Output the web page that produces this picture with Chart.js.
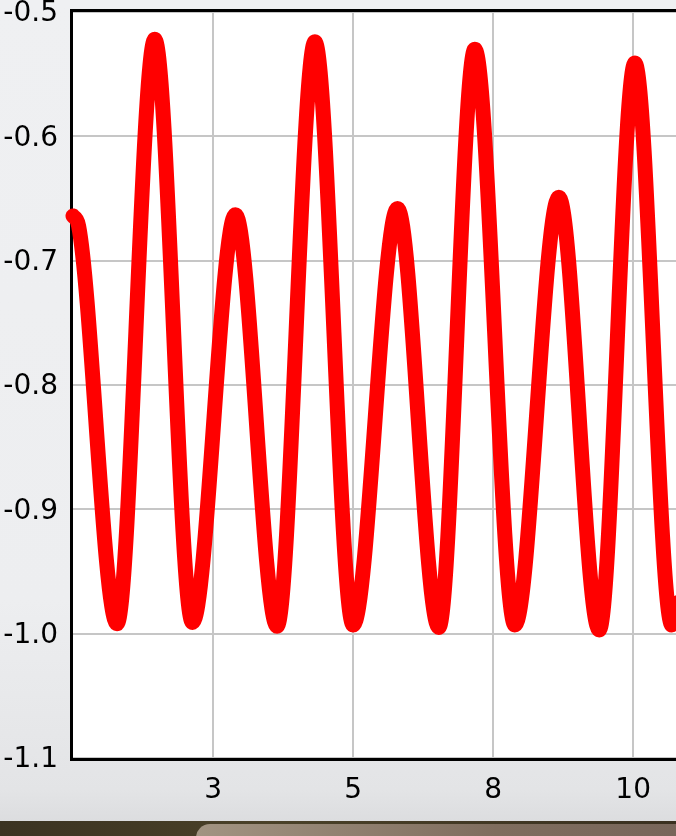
<!DOCTYPE html>
<html>
<head>
<meta charset="utf-8">
<script src="https://cdn.jsdelivr.net/npm/chart.js@4.4.1/dist/chart.umd.min.js"></script>
<style>
  html, body { margin: 0; padding: 0; width: 676px; height: 836px; overflow: hidden; }
  body { background: linear-gradient(to bottom, #eff0f2 0px, #edeef0 600px, #e3e4e6 790px, #dcdddf 821px, #3a3122 821px, #3a3122 836px); position: relative; }
  #wrap { position: absolute; left: 0; top: 0; width: 720px; height: 821px; }
  #desk { position: absolute; left: 0; top: 821px; width: 676px; height: 15px; background: linear-gradient(to right, #3b3322, #4a4128 40%, #3a3020); }
  #desk2 { position: absolute; left: 196px; top: 824px; width: 500px; height: 20px; border-top-left-radius: 14px; background: linear-gradient(to right, #a29482, #7f6d5e 60%, #77655a); }
</style>
</head>
<body>
<div id="desk"></div>
<div id="desk2"></div>
<div id="wrap"><canvas id="c" width="720" height="821"></canvas></div>
<script>
// Data (extrema of the curve)
const xValues = [0, 0.1, 0.786, 1.459, 2.132, 2.90, 3.643, 4.318, 5.0, 5.793, 6.53, 7.173, 7.888, 8.673, 9.393, 10.03, 10.69, 10.8];
const yValues = [-0.664, -0.672, -0.992, -0.522, -0.991, -0.663, -0.994, -0.524, -0.993, -0.658, -0.995, -0.530, -0.993, -0.649, -0.997, -0.541, -0.993, -0.975];
const xTicks = [2.5, 5, 7.5, 10];
const yTicks = [-1.1, -1.0, -0.9, -0.8, -0.7, -0.6, -0.5];
const xMin = 0, xMax = 10.8;
const yMin = -1.1, yMax = -0.5;

const points = xValues.map((x, i) => ({ x: x, y: yValues[i] }));

const frame = {
  id: 'frame',
  beforeDraw(chart) {
    const a = chart.chartArea, ctx = chart.ctx;
    ctx.save();
    ctx.fillStyle = '#ffffff';
    ctx.fillRect(a.left, a.top, a.right - a.left, a.bottom - a.top);
    ctx.restore();
  },
  beforeDatasetsDraw(chart) {
    const a = chart.chartArea, ctx = chart.ctx;
    ctx.save();
    ctx.strokeStyle = '#000';
    ctx.lineWidth = 3;
    ctx.strokeRect(a.left - 1.5, a.top - 1.5, a.right - a.left + 3, a.bottom - a.top + 3);
    ctx.restore();
  }
};

const font = { family: 'DejaVu Sans', size: 28 };

new Chart(document.getElementById('c'), {
  type: 'line',
  data: {
    datasets: [{
      data: points,
      borderColor: '#ff0000',
      borderWidth: 15,
      borderCapStyle: 'round',
      borderJoinStyle: 'round',
      pointRadius: 0,
      fill: false,
      cubicInterpolationMode: 'monotone',
      clip: 10
    }]
  },
  options: {
    responsive: false,
    animation: false,
    devicePixelRatio: 1,
    layout: { padding: { left: 0, top: 12, right: 42, bottom: 0 } },
    plugins: { legend: { display: false }, tooltip: { enabled: false } },
    scales: {
      x: {
        type: 'linear',
        min: xMin, max: xMax,
        border: { display: false },
        grid: { color: '#c6c6c6', lineWidth: 2, drawTicks: false },
        ticks: {
          color: '#000',
          font: font,
          padding: 16,
          maxRotation: 0,
          autoSkip: false,
          callback: (v) => Number(v).toFixed(0)
        },
        afterBuildTicks(s) { s.ticks = xTicks.map(v => ({ value: v })); },
        afterFit(s) { s.height = 63; s.paddingLeft = 0; s.paddingRight = 0; }
      },
      y: {
        min: yMin, max: yMax,
        border: { display: false },
        grid: { color: '#c6c6c6', lineWidth: 2, drawTicks: false },
        ticks: {
          color: '#000',
          font: font,
          padding: 15,
          labelOffset: 2,
          autoSkip: false,
          callback: (v) => Number(v).toFixed(1)
        },
        afterBuildTicks(s) { s.ticks = yTicks.map(v => ({ value: v })); },
        afterFit(s) { s.width = 73; s.paddingTop = 0; s.paddingBottom = 0; }
      }
    }
  },
  plugins: [frame]
});
</script>
</body>
</html>
